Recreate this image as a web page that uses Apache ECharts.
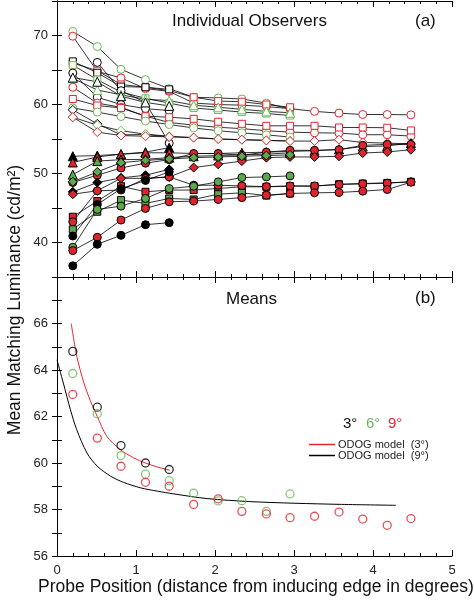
<!DOCTYPE html>
<html><head><meta charset="utf-8">
<script src="https://cdn.jsdelivr.net/npm/echarts@6/dist/echarts.min.js"></script>
<style>html,body{margin:0;padding:0;background:#fff}#c{width:474px;height:600px}</style>
</head><body><div id="c"></div>
<script>
// ---------- DATA ----------
const xPos = [0.2, 0.51, 0.81, 1.12, 1.42, 1.73, 2.04, 2.34, 2.65, 2.95, 3.26, 3.57, 3.87, 4.18, 4.48];
const xTicks = [0, 1, 2, 3, 4, 5];
const topYTicks = [40, 50, 60, 70];
const botYTicks = [56, 58, 60, 62, 64, 66];

// Panel (a): individual observers, open symbols (upper group)
const openGreenCircleA = [70.6, 68.4, 65.1, 63.6, 62.3, 61.05, 60.95, 60.8, 60.2, 59.35];
const openRedCircleA   = [69.9, 64.8, 63.85, 62.3, 61.9, 60.2, 60.0, 59.9, 59.7, 59.4, 59.0, 58.75, 58.55, 58.55, 58.5];
const openRedSquareA   = [66.0, 64.9, 62.9, 62.5, 62.0, 61.05, 60.5, 60.4, 60.0, 59.6];
const openBlackSquare  = [66.25, 64.6, 62.6, 62.5, 62.2];
const openGreenSquare  = [65.7, 63.6, 61.8, 60.9, 60.2, 59.5, 59.2, 58.9, 58.7, 58.4];
const openBlackCircleA = [64.56, 61.05, 60.0, 59.4, 59.13];
const openBlackCircleB = [null, 66.1, 62.0, 60.3, 54.4];
const openGreenTri     = [63.8, 62.1, 61.4, 60.75, 60.57, 59.9, 59.6, 59.3, 59.0, 58.8];
const openBlackTri     = [63.9, 63.3, 61.2, 60.3, 59.8];
const openRedCircleB   = [62.5, 60.2, 59.6, 58.3, 57.4, 57.0, 56.7, 56.5, 56.2, 56.0, 55.9, 55.86, 55.62, 55.62, 55.42];
const openRedSquareB   = [60.8, 59.85, 59.5, 58.3, 58.16, 57.92, 57.5, 57.2, 56.91, 56.91, 56.91, 56.67, 56.67, 56.63, 56.24];
const openGreenCircleB = [59.5, 58.9, 58.26, 57.6, 57.1, 56.6, 56.2, 55.9, 55.6, 55.28];
const openBlackDiamond = [59.22, 57.2, 55.6, 55.66, 55.3];
const openGreenDiamond = [58.16, 57.0, 56.2, 55.7, 55.4, 55.2, 55.0, 54.9, 54.8, 54.7];
const openRedDiamond   = [58.16, 56.0, 55.5, 55.4, 55.3, 55.2, 55.0, 54.9, 54.8, 54.7, 54.7, 54.9, 54.5, 54.4, 54.3];

// Panel (a): filled symbols (lower group)
const fillBlackTri     = [52.5, 52.6, 52.8, 53.1, 53.74];
const fillRedTri       = [51.6, 52.4, 52.8, 53.0, 53.0, 52.9, 52.9, 53.0, 53.1, 53.2, 53.3, 53.5, 53.9, 54.0, 54.4];
const fillGreenTri     = [49.84, 51.8, 52.0, 52.06, 52.3, 52.5, 52.6, 52.7, 52.8, 53.0];
const fillRedCircleC   = [48.7, 49.75, 50.8, 51.5, 52.0, 52.9, 52.9, 52.64, 53.1, 53.36, 53.36, 53.45, 54.08, 54.22, 54.22];
const fillBlackDiamond = [47.34, 48.69, 49.36, 49.75, 50.6];
const fillRedDiamond   = [47.0, 47.5, 49.3, 49.3, 49.5, 50.86, 51.34, 51.8, 52.3, 52.4, 52.4, 52.5, 52.97, 53.12, 53.45];
const fillGreenDiamond = [48.8, 50.23, 51.57, 51.9, 52.1, 52.3, 52.4, 52.5, 52.6, 52.7];
const fillRedSquare    = [43.73, 46.0, 48.16, 47.35, 47.6, 47.6, 47.83, 48.07, 48.07, 48.16, 48.16, 48.45, 48.55, 48.64, 48.79];
const fillRedCircleE   = [43.0, 47.49, 47.6, 49.27, 49.51, 48.3, 48.3, 48.2, 48.1, 48.2, 48.2, 48.4, 48.5, 48.6, 48.8];
const fillGreenSquare  = [41.91, 44.46, 46.14, 45.66, 46.38, 46.24, 47.0, 47.2, 46.8, 47.1];
const fillBlackCircleA = [40.94, 45.5, 47.8, 49.0, 50.23];
const fillGreenCircle  = [39.31, 44.79, 45.27, 46.38, 47.82, 48.16, 48.79, 49.41, 49.51, 49.65];
const fillRedCircleD   = [38.83, 40.75, 43.25, 44.94, 45.9, 46.0, 46.24, 46.5, 46.86, 47.1, 47.2, 47.25, 47.44, 47.68, 48.74];
const fillBlackCircleB = [36.62, 39.74, 41.04, 42.58, 42.87];

// Panel (b): means
const mean3deg = [64.8, 62.4, 60.75, 60.0, 59.72];
const mean6deg = [63.85, 62.12, 60.32, 59.52, 59.24, 58.7, 58.37, 58.38, 57.92, 58.67];
const mean9deg = [62.95, 61.07, 59.86, 59.17, 59.0, 58.22, 58.46, 57.92, 57.81, 57.65, 57.71, 57.89, 57.59, 57.32, 57.61];
const odog3X = [0.18, 0.25, 0.34, 0.42, 0.51, 0.63, 0.8, 0.97, 1.12, 1.27, 1.43];
const odog3Y = [66.0, 64.6, 63.45, 62.7, 62.0, 61.15, 60.58, 60.22, 60.0, 59.83, 59.69];
const odog9X = [0, 0.08, 0.17, 0.25, 0.38, 0.51, 0.68, 0.84, 1.06, 1.27, 1.48, 1.9, 2.44, 3.0, 3.6, 4.29];
const odog9Y = [64.44, 63.44, 62.29, 61.43, 60.43, 59.86, 59.43, 59.17, 58.93, 58.79, 58.67, 58.47, 58.34, 58.27, 58.22, 58.18];

// ---------- STYLE ----------
const BLACK = '#000000', GREEN = '#6cb85a', RED = '#e4252f';
const GREEN_FILL = '#5ea84c', RED_FILL = '#e0242c';
const FONT = '"Liberation Sans", Arial, sans-serif';

const openSpecs = [
  [openGreenCircleA, 'circle', GREEN], [openRedCircleA, 'circle', RED], [openRedSquareA, 'rect', RED],
  [openBlackSquare, 'rect', BLACK], [openGreenSquare, 'rect', GREEN], [openBlackCircleA, 'circle', BLACK],
  [openBlackCircleB, 'circle', BLACK], [openGreenTri, 'triangle', GREEN], [openBlackTri, 'triangle', BLACK],
  [openRedCircleB, 'circle', RED], [openRedSquareB, 'rect', RED], [openGreenCircleB, 'circle', GREEN],
  [openBlackDiamond, 'diamond', BLACK], [openGreenDiamond, 'diamond', GREEN], [openRedDiamond, 'diamond', RED]
];
const fillSpecs = [
  [fillBlackTri, 'triangle', BLACK], [fillRedTri, 'triangle', RED_FILL], [fillGreenTri, 'triangle', GREEN_FILL],
  [fillRedCircleC, 'circle', RED_FILL], [fillBlackDiamond, 'diamond', BLACK], [fillRedDiamond, 'diamond', RED_FILL],
  [fillGreenDiamond, 'diamond', GREEN_FILL], [fillRedSquare, 'rect', RED_FILL], [fillRedCircleE, 'circle', RED_FILL],
  [fillGreenSquare, 'rect', GREEN_FILL], [fillBlackCircleA, 'circle', BLACK], [fillGreenCircle, 'circle', GREEN_FILL],
  [fillRedCircleD, 'circle', RED_FILL], [fillBlackCircleB, 'circle', BLACK]
];

function sizeFor(shape) { return shape === 'triangle' ? 9 : shape === 'diamond' ? 9 : shape === 'rect' ? 7 : 8; }

function obsSeries(vals, shape, color, filled, z) {
  return {
    type: 'line', xAxisIndex: 0, yAxisIndex: 0, z: z,
    data: vals.map((v, i) => [xPos[i], v]),
    symbol: shape, symbolSize: sizeFor(shape), showSymbol: true,
    lineStyle: { color: '#000', width: 0.8 },
    itemStyle: filled ? { color: color, borderColor: '#000', borderWidth: 1 }
                      : { color: '#ffffff', borderColor: color, borderWidth: 1 },
    emphasis: { disabled: true }, silent: true
  };
}

const series = [];
openSpecs.forEach(s => series.push(obsSeries(s[0], s[1], s[2], false, 2)));
fillSpecs.forEach(s => series.push(obsSeries(s[0], s[1], s[2], true, 3)));

function meanSeries(vals, color) {
  return {
    type: 'scatter', xAxisIndex: 2, yAxisIndex: 2, z: 4,
    data: vals.map((v, i) => [xPos[i], v]),
    symbol: 'circle', symbolSize: 8,
    itemStyle: { color: 'rgba(255,255,255,0)', borderColor: color, borderWidth: 1.3 },
    silent: true
  };
}
series.push({
  name: 'ODOG model  (3°)', type: 'line', xAxisIndex: 2, yAxisIndex: 2, z: 3,
  data: odog3X.map((x, i) => [x, odog3Y[i]]), showSymbol: false, symbol: 'none', smooth: 0.3,
  lineStyle: { color: RED, width: 1 }, itemStyle: { color: RED }, silent: true
});
series.push({
  name: 'ODOG model  (9°)', type: 'line', xAxisIndex: 2, yAxisIndex: 2, z: 3,
  data: odog9X.map((x, i) => [x, odog9Y[i]]), showSymbol: false, symbol: 'none', smooth: 0.3,
  lineStyle: { color: BLACK, width: 1 }, itemStyle: { color: BLACK }, silent: true
});
series.push(meanSeries(mean3deg, BLACK));
series.push(meanSeries(mean6deg, GREEN));
series.push(meanSeries(mean9deg, RED));

const L = 57, R = 22, TOP = 1, MID = 277, BOT = 556;
const axisLine = { show: true, lineStyle: { color: '#000', width: 1 } };
const labelFont = { fontFamily: FONT, fontSize: 13, color: '#222' };

function xAx(grid, pos, labels) {
  return {
    type: 'value', gridIndex: grid, position: pos, min: 0, max: 5, interval: 1,
    axisLine: axisLine,
    axisTick: { show: true, inside: true, length: 6, lineStyle: { color: '#000' } },
    minorTick: { show: true, splitNumber: 5, length: 3, lineStyle: { color: '#000' } },
    splitLine: { show: false },
    axisLabel: labels ? Object.assign({ show: true, margin: 8,
      formatter: v => xTicks.indexOf(v) >= 0 ? String(v) : '' }, labelFont) : { show: false }
  };
}
function yAx(grid, pos, min, max, interval, ticks) {
  return {
    type: 'value', gridIndex: grid, position: pos, min: min, max: max, interval: interval,
    axisLine: axisLine,
    axisTick: { show: true, inside: true, length: 5, lineStyle: { color: '#000' } },
    splitLine: { show: false },
    axisLabel: ticks ? Object.assign({ show: true, margin: 9,
      formatter: v => ticks.indexOf(v) >= 0 ? String(v) : '' }, labelFont) : { show: false }
  };
}

const option = {
  animation: false,
  backgroundColor: '#fff',
  grid: [
    { left: L, right: R, top: TOP, height: MID - TOP },
    { left: L, right: R, top: MID, height: BOT - MID }
  ],
  xAxis: [xAx(0, 'bottom', false), xAx(0, 'top', false), xAx(1, 'bottom', true), xAx(1, 'top', false)],
  yAxis: [
    yAx(0, 'left', 35, 75, 5, topYTicks), yAx(0, 'right', 35, 75, 5, null),
    yAx(1, 'left', 56, 68, 1, botYTicks), yAx(1, 'right', 56, 68, 1, null)
  ],
  legend: {
    data: ['ODOG model  (3°)', 'ODOG model  (9°)'], orient: 'vertical',
    left: 304, top: 434, itemWidth: 26, itemHeight: 1.5, itemGap: 0, icon: 'rect',
    textStyle: { fontFamily: FONT, fontSize: 11, color: '#222', padding: [0, 0, 0, -2] },
    selectedMode: false
  },
  graphic: [
    { type: 'text', x: 172, y: 13, style: { text: 'Individual Observers', font: '17px ' + FONT, fill: '#111' } },
    { type: 'text', x: 415, y: 13, style: { text: '(a)', font: '17px ' + FONT, fill: '#111' } },
    { type: 'text', x: 226, y: 291, style: { text: 'Means', font: '17px ' + FONT, fill: '#111' } },
    { type: 'text', x: 415, y: 290, style: { text: '(b)', font: '17px ' + FONT, fill: '#111' } },
    { type: 'text', x: 343, y: 416, style: { text: '3°', font: '15px ' + FONT, fill: '#111' } },
    { type: 'text', x: 366, y: 416, style: { text: '6°', font: '15px ' + FONT, fill: GREEN } },
    { type: 'text', x: 388, y: 416, style: { text: '9°', font: '15px ' + FONT, fill: RED } },
    { type: 'text', x: 256, y: 578, style: { text: 'Probe Position (distance from inducing edge in degrees)', align: 'center',
        font: '17.5px ' + FONT, fill: '#111' } },
    { type: 'text', x: 15, y: 300, rotation: Math.PI / 2, style: { text: 'Mean Matching Luminance (cd/m²)', align: 'center', verticalAlign: 'middle',
        font: '17.5px ' + FONT, fill: '#111' } }
  ],
  series: series
};
const chart = echarts.init(document.getElementById('c'), null, { renderer: 'canvas' });
chart.setOption(option);
</script></body></html>
